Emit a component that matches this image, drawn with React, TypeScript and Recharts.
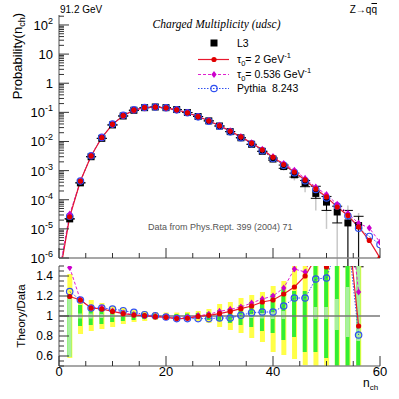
import { Bar, ComposedChart, ErrorBar, Line, ReferenceLine, Scatter, XAxis, YAxis } from 'recharts'

// multiplicity bins of the L3 measurement
const nBins = [2, 4, 6, 8, 10, 12, 14, 16, 18, 20, 22, 24, 26, 28, 30, 32, 34, 36, 38, 40, 42, 44, 46, 48, 50, 52, 54, 56]
const probL3 = [
  2.2e-5, 3.8e-4, 3.0e-3, 0.0128, 0.037, 0.075, 0.118, 0.145, 0.153, 0.145, 0.125, 0.099, 0.072, 0.051,
  0.034, 0.0218, 0.0134, 0.008, 0.0046, 0.0025, 1.38e-3, 7.2e-4, 3.8e-4, 1.65e-4, 8.3e-5, 3.8e-5, 1.6e-5, 1.3e-5,
]

// visible error bars in the tail (absolute ends)
const errBins = [40, 42, 44, 46, 48, 50, 52, 54, 56]
const statLow = [2.3e-3, 1.2e-3, 6.0e-4, 2.8e-4, 1.12e-4, 4.3e-5, 1.6e-5, 5e-7, 5e-7]
const statHigh = [2.7e-3, 1.55e-3, 8.2e-4, 4.6e-4, 2.9e-4, 1.3e-4, 6.0e-5, 4.3e-5, 2.7e-5]
const totLow = [2.1e-3, 1.0e-3, 4.6e-4, 1.8e-4, 4.3e-5, 1.0e-5, 5e-7, 5e-7, 5e-7]
const totHigh = [2.9e-3, 1.7e-3, 9.4e-4, 5.0e-4, 3.5e-4, 1.6e-4, 7.5e-5, 6.3e-5, 3.5e-5]

// theory curves
const nTheory = [0, 2, 4, 6, 8, 10, 12, 14, 16, 18, 20, 22, 24, 26, 28, 30, 32, 34, 36, 38, 40, 42, 44, 46, 48, 50, 52, 54, 56, 58, 60]
const probTau2 = [
  2e-7, 2.6e-5, 4.4e-4, 3.2e-3, 0.0137, 0.0387, 0.0767, 0.119, 0.1455, 0.152, 0.143, 0.1218, 0.0967, 0.0718, 0.0514,
  0.0348, 0.0228, 0.0144, 0.0088, 0.0052, 0.0029, 1.62e-3, 8.9e-4, 4.8e-4, 2.35e-4, 1.25e-4, 5.6e-5, 2.9e-5, 1.17e-5, 4e-6, 1e-6,
]
const probTau0536 = [
  3e-7, 3.2e-5, 4.4e-4, 3.24e-3, 0.0138, 0.0389, 0.0773, 0.1195, 0.145, 0.1525, 0.1436, 0.1225, 0.0977, 0.0722, 0.0519,
  0.0356, 0.0232, 0.0146, 0.009, 0.0054, 0.003, 1.75e-3, 1.03e-3, 5.4e-4, 2.7e-4, 1.5e-4, 7.0e-5, 3.4e-5, 1.55e-5, 1.07e-5, 3.5e-6,
]
const probPythia = [
  2.5e-7, 2.7e-5, 4.4e-4, 3.24e-3, 0.0138, 0.0396, 0.079, 0.1222, 0.1469, 0.1535, 0.1436, 0.1218, 0.0964, 0.0701, 0.0497,
  0.0333, 0.0214, 0.0135, 0.0083, 0.0048, 0.0026, 1.52e-3, 8.5e-4, 4.5e-4, 2.26e-4, 1.15e-4, 6.1e-5, 2.8e-5, 1.05e-5, 5.5e-6, 2.9e-6,
]

// theory / data, per nBins
const ratioTau2 = [1.195, 1.16, 1.08, 1.07, 1.046, 1.023, 1.01, 1.003, 0.993, 0.987, 0.974, 0.977, 0.997, 1.007, 1.023, 1.046, 1.073, 1.1, 1.14, 1.16, 1.22, 1.29, 1.4, 1.58, 1.49, 1.56, 1.93, 0.9]
const ratioTau0536 = [1.485, 1.16, 1.08, 1.08, 1.05, 1.03, 1.013, 1.0, 0.997, 0.99, 0.98, 0.987, 1.003, 1.017, 1.046, 1.066, 1.09, 1.13, 1.17, 1.2, 1.28, 1.47, 1.44, 1.7, 1.8, 1.9, 2.2, 1.24]
const ratioPythia = [1.244, 1.16, 1.08, 1.08, 1.07, 1.053, 1.036, 1.013, 1.003, 0.99, 0.974, 0.974, 0.974, 0.974, 0.98, 0.98, 1.007, 1.033, 1.04, 1.04, 1.1, 1.18, 1.18, 1.37, 1.38, 1.7, 1.8, 0.81]

// data uncertainty bands in the ratio panel
const totBandLow = [0.58, 0.82, 0.85, 0.87, 0.89, 0.92, 0.94, 0.95, 0.96, 0.965, 0.965, 0.96, 0.95, 0.93, 0.89, 0.86, 0.83, 0.78, 0.74, 0.64, 0.61, 0.57, 0.51, 0.45, 0.45, 0.45, 0.45, 0.45]
const totBandHigh = [1.42, 1.17, 1.16, 1.13, 1.1, 1.08, 1.06, 1.05, 1.04, 1.035, 1.035, 1.04, 1.05, 1.07, 1.12, 1.14, 1.18, 1.21, 1.24, 1.3, 1.35, 1.6, 1.6, 1.6, 1.6, 1.6, 1.6, 1.6]
const statBandLow = [0.59, 0.9, 0.91, 0.92, 0.94, 0.95, 0.96, 0.97, 0.975, 0.98, 0.98, 0.975, 0.97, 0.96, 0.95, 0.93, 0.91, 0.89, 0.85, 0.83, 0.76, 0.79, 0.64, 0.64, 0.58, 0.45, 0.45, 0.45]
const statBandHigh = [1.22, 1.11, 1.09, 1.08, 1.06, 1.05, 1.04, 1.03, 1.025, 1.02, 1.02, 1.025, 1.03, 1.04, 1.06, 1.08, 1.11, 1.14, 1.18, 1.22, 1.27, 1.25, 1.25, 1.6, 1.6, 1.6, 1.6, 1.6]
const lightBandLow = [0.59, 0.975, 0.975, 0.98, 0.985, null, null, null, null, null, null, null, null, null, null, null, 0.985, 0.98, 0.975, 0.97, 0.97, null, null, 0.97, 0.97, 0.86, 0.79, 0.75]
const lightBandHigh = [1.22, 1.025, 1.025, 1.02, 1.015, null, null, null, null, null, null, null, null, null, null, null, 1.015, 1.02, 1.03, 1.04, 1.05, null, null, 1.09, 1.09, 1.17, 1.29, 1.6]

const xTicks = [0, 5, 10, 15, 20, 25, 30, 35, 40, 45, 50, 55, 60]
const decades = [-6, -5, -4, -3, -2, -1, 0, 1, 2]
const minorSteps = [2, 3, 4, 5, 6, 7, 8, 9]
const ratioTicks = [0.5, 0.55, 0.6, 0.65, 0.7, 0.75, 0.8, 0.85, 0.9, 0.95, 1, 1.05, 1.1, 1.15, 1.2, 1.25, 1.3, 1.35, 1.4, 1.45, 1.5]

const logTicks: number[] = []
decades.forEach((d) => {
  logTicks.push(Math.pow(10, d))
  if (d < 2) minorSteps.forEach((s) => logTicks.push(s * Math.pow(10, d)))
})
logTicks.push(200)

const dataRows = nBins.map((n, i) => {
  const j = errBins.indexOf(n)
  const p = probL3[i]
  return {
    n,
    p,
    stat: j < 0 ? [0, 0] : [p - statLow[j], statHigh[j] - p],
    tot: j < 0 ? [0, 0] : [p - totLow[j], totHigh[j] - p],
  }
})

const theoryRows = nTheory.map((n, i) => ({ n, tau2: probTau2[i], tau0536: probTau0536[i], pythia: probPythia[i] }))

const ratioRows = nBins.map((n, i) => ({
  n,
  tot: [totBandLow[i], totBandHigh[i]],
  stat: [statBandLow[i], statBandHigh[i]],
  light: lightBandLow[i] === null ? null : [lightBandLow[i], lightBandHigh[i]],
  tau2: ratioTau2[i],
  tau0536: ratioTau0536[i],
  pythia: ratioPythia[i],
}))

const FRAME = '#8a8a8a'
const TICK = '#333'
const RED = '#e8182e'
const MAGENTA = '#e020d0'
const BLUE = '#3050f0'
const FONT = '"Liberation Sans", Arial, sans-serif'

function XTick(props: any) {
  const { x, y, payload, labels } = props
  const v = payload.value as number
  const major = v % 20 === 0
  return (
    <g>
      <line x1={x} x2={x} y1={y} y2={y - (major ? 10 : 5)} stroke={TICK} />
      {labels && major && (
        <text x={x} y={y + 10} textAnchor="middle" fontSize={13} fill="#000" fontFamily={FONT}>
          {v}
        </text>
      )}
    </g>
  )
}

function LogTick(props: any) {
  const { x, y, payload } = props
  const v = payload.value as number
  const e = Math.round(Math.log10(v))
  const major = Math.abs(v / Math.pow(10, e) - 1) < 1e-6
  return (
    <g>
      <line x1={x} x2={x + (major ? 10 : 5)} y1={y} y2={y} stroke={TICK} />
      {major && (
        <text x={x - 6} y={y + 5} textAnchor="end" fontSize={13} fill="#000" fontFamily={FONT}>
          {e === 0 ? '1' : '10'}
          {e !== 0 && e !== 1 && (
            <tspan dy={-6} fontSize={9}>
              {e}
            </tspan>
          )}
        </text>
      )}
    </g>
  )
}

function RatioTick(props: any) {
  const { x, y, payload } = props
  const v = payload.value as number
  const major = Math.abs(v * 5 - Math.round(v * 5)) < 1e-6
  return (
    <g>
      <line x1={x} x2={x + (major ? 10 : 5)} y1={y} y2={y} stroke={TICK} />
      {major && (
        <text x={x - 6} y={y + 4} textAnchor="end" fontSize={12} fill="#000" fontFamily={FONT}>
          {String(Number(v.toFixed(1)))}
        </text>
      )}
    </g>
  )
}

const redDot = (p: any) =>
  p.cy == null ? <g key={p.index} /> : <circle key={p.index} cx={p.cx} cy={p.cy} r={2.6} fill="#e00000" />
const magentaDot = (p: any) =>
  p.cy == null ? (
    <g key={p.index} />
  ) : (
    <polygon
      key={p.index}
      points={`${p.cx},${p.cy - 3.6} ${p.cx + 2.6},${p.cy} ${p.cx},${p.cy + 3.6} ${p.cx - 2.6},${p.cy}`}
      fill="#cc00cc"
    />
  )
const blueDot = (p: any) =>
  p.cy == null ? (
    <g key={p.index} />
  ) : (
    <circle key={p.index} cx={p.cx} cy={p.cy} r={3.2} fill="none" stroke={BLUE} strokeWidth={1.2} />
  )

// one band layer of the ratio panel, same geometry as the ratio chart
function BandLayer({ dataKey, fill, size }: { dataKey: string; fill: string; size: number }) {
  return (
    <div style={{ position: 'absolute', left: 0, top: 250 }}>
      <ComposedChart width={399} height={149} data={ratioRows} margin={{ top: 16, right: 19, bottom: 0, left: 0 }}>
        <XAxis type="number" dataKey="n" domain={[0, 60]} allowDataOverflow height={33} tick={false} tickLine={false} axisLine={false} />
        <YAxis type="number" domain={[0.5, 1.5]} allowDataOverflow width={59} tick={false} tickLine={false} axisLine={false} />
        <Bar dataKey={dataKey} fill={fill} barSize={size} isAnimationActive={false} />
      </ComposedChart>
    </div>
  )
}

function Legend() {
  const rows = [
    { y: 43, kind: 'data' },
    { y: 59.5, kind: 'red' },
    { y: 74.5, kind: 'mag' },
    { y: 88.5, kind: 'blue' },
  ]
  return (
    <g>
      {rows.map((r) => (
        <g key={r.kind}>
          {r.kind === 'data' && <rect x={210.5} y={r.y - 3.5} width={7} height={7} fill="#000" />}
          {r.kind === 'red' && (
            <>
              <line x1={198} x2={229} y1={r.y} y2={r.y} stroke={RED} strokeWidth={1.2} />
              {redDot({ cx: 214, cy: r.y, index: 0 })}
            </>
          )}
          {r.kind === 'mag' && (
            <>
              <line x1={198} x2={229} y1={r.y} y2={r.y} stroke={MAGENTA} strokeDasharray="3 2" />
              {magentaDot({ cx: 214, cy: r.y, index: 0 })}
            </>
          )}
          {r.kind === 'blue' && (
            <>
              <line x1={198} x2={229} y1={r.y} y2={r.y} stroke={BLUE} strokeDasharray="1.5 1.5" />
              {blueDot({ cx: 214, cy: r.y, index: 0 })}
            </>
          )}
        </g>
      ))}
      <text x={237} y={46.5} fontSize={10.5}>L3</text>
      <text x={237} y={63} fontSize={10.5}>
        τ<tspan dy={3} fontSize={7.5}>0</tspan>
        <tspan dy={-3}>= 2 GeV</tspan>
        <tspan dy={-5} fontSize={7.5}>-1</tspan>
      </text>
      <text x={237} y={78} fontSize={10.5}>
        τ<tspan dy={3} fontSize={7.5}>0</tspan>
        <tspan dy={-3}>= 0.536 GeV</tspan>
        <tspan dy={-5} fontSize={7.5}>-1</tspan>
      </text>
      <text x={237} y={92} fontSize={10.5} style={{ whiteSpace: 'pre' }}>
        Pythia  8.243
      </text>
    </g>
  )
}

export default function App() {
  return (
    <div style={{ position: 'absolute', left: 0, top: 0, width: 399, height: 399, background: '#fff', fontFamily: FONT }}>
      <div style={{ position: 'absolute', left: 0, top: 0 }}>
        <ComposedChart width={399} height={270} data={theoryRows} margin={{ top: 15, right: 19, bottom: 0, left: 0 }}>
          <XAxis
            type="number"
            dataKey="n"
            domain={[0, 60]}
            ticks={xTicks}
            interval={0}
            tickSize={0}
            tickMargin={0}
            height={12}
            allowDataOverflow
            tick={<XTick labels={false} />}
            axisLine={{ stroke: FRAME, strokeWidth: 1.5 }}
          />
          <XAxis xAxisId="top" orientation="top" type="number" domain={[0, 60]} height={0} tick={false} tickLine={false} axisLine={{ stroke: FRAME, strokeWidth: 1.5 }} />
          <YAxis
            type="number"
            scale="log"
            domain={[1e-6, 220]}
            allowDataOverflow
            ticks={logTicks}
            interval={0}
            tickSize={0}
            tickMargin={0}
            width={59}
            tick={<LogTick />}
            axisLine={{ stroke: FRAME, strokeWidth: 1.5 }}
          />
          <YAxis yAxisId="right" orientation="right" width={0} tick={false} tickLine={false} axisLine={{ stroke: FRAME, strokeWidth: 1.5 }} />
          <Scatter
            data={dataRows}
            dataKey="p"
            isAnimationActive={false}
            shape={(p: any) => <rect x={p.cx - 3.5} y={p.cy - 3.5} width={7} height={7} fill="#000" />}
          >
            <ErrorBar dataKey="tot" direction="y" width={0} stroke="#c8c8c8" strokeWidth={1.5} />
            <ErrorBar dataKey="stat" direction="y" width={5} stroke="#000" strokeWidth={1} />
          </Scatter>
          <Line dataKey="pythia" stroke={BLUE} strokeWidth={1} strokeDasharray="1.5 1.5" dot={blueDot} isAnimationActive={false} />
          <Line dataKey="tau0536" stroke={MAGENTA} strokeWidth={1} strokeDasharray="3 2" dot={magentaDot} isAnimationActive={false} />
          <Line dataKey="tau2" stroke={RED} strokeWidth={1.2} dot={redDot} isAnimationActive={false} />
        </ComposedChart>
      </div>

      <BandLayer dataKey="tot" fill="#ffff48" size={5} />
      <BandLayer dataKey="stat" fill="#33ee33" size={4} />
      <BandLayer dataKey="light" fill="#a8f0a0" size={4} />

      <div style={{ position: 'absolute', left: 0, top: 250 }}>
        <ComposedChart width={399} height={149} data={ratioRows} margin={{ top: 16, right: 19, bottom: 0, left: 0 }}>
          <XAxis
            type="number"
            dataKey="n"
            domain={[0, 60]}
            ticks={xTicks}
            interval={0}
            tickSize={0}
            tickMargin={0}
            height={33}
            allowDataOverflow
            tick={<XTick labels />}
            axisLine={{ stroke: FRAME, strokeWidth: 1.5 }}
          />
          <XAxis xAxisId="top" orientation="top" type="number" domain={[0, 60]} height={0} tick={false} tickLine={false} axisLine={{ stroke: FRAME, strokeWidth: 1.5 }} />
          <YAxis
            type="number"
            domain={[0.5, 1.5]}
            allowDataOverflow
            ticks={ratioTicks}
            interval={0}
            tickSize={0}
            tickMargin={0}
            width={59}
            tick={<RatioTick />}
            axisLine={{ stroke: FRAME, strokeWidth: 1.5 }}
          />
          <YAxis yAxisId="right" orientation="right" width={0} tick={false} tickLine={false} axisLine={{ stroke: FRAME, strokeWidth: 1.5 }} />
          <ReferenceLine y={1} stroke="#777" strokeWidth={1.5} />
          <Line dataKey="pythia" stroke={BLUE} strokeWidth={1} strokeDasharray="1.5 1.5" dot={blueDot} isAnimationActive={false} />
          <Line dataKey="tau0536" stroke={MAGENTA} strokeWidth={1} strokeDasharray="3 2" dot={magentaDot} isAnimationActive={false} />
          <Line dataKey="tau2" stroke={RED} strokeWidth={1.2} dot={redDot} isAnimationActive={false} />
        </ComposedChart>
      </div>

      <svg width={399} height={399} style={{ position: 'absolute', left: 0, top: 0, pointerEvents: 'none' }} fontFamily={FONT}>
        <text x={60} y={13} fontSize={10}>91.2 GeV</text>
        <text x={377} y={13} fontSize={10} textAnchor="end">
          Z→q<tspan style={{ textDecoration: 'overline' }}>q</tspan>
        </text>
        <text x={216.5} y={27.5} fontSize={11.5} fontStyle="italic" textAnchor="middle" fontFamily='"Liberation Serif", "Times New Roman", serif'>
          Charged Multiplicity (udsc)
        </text>
        <Legend />
        <text x={148} y={230} fontSize={9} fill="#555">Data from Phys.Rept. 399 (2004) 71</text>
        <text transform="translate(22,13) rotate(-90)" textAnchor="end" fontSize={13}>
          Probability(n<tspan dy={3} fontSize={9}>ch</tspan>
          <tspan dy={-3}>)</tspan>
        </text>
        <text transform="translate(25,316) rotate(-90)" textAnchor="middle" fontSize={11.5}>
          Theory/Data
        </text>
        <text x={363} y={386.5} fontSize={12}>
          n<tspan dy={3} fontSize={8}>ch</tspan>
        </text>
      </svg>
    </div>
  )
}
